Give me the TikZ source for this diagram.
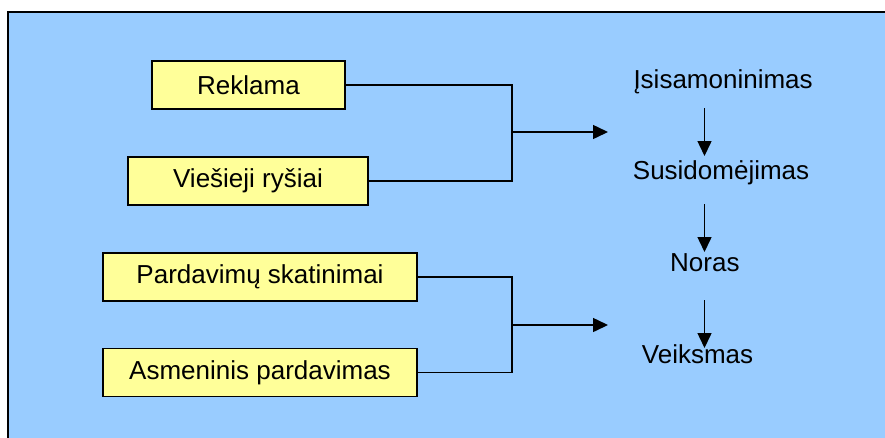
\documentclass[tikz,border=0pt]{standalone}
\usepackage{fontspec}
\setmainfont{Liberation Sans}
\usetikzlibrary{arrows.meta}
\definecolor{bgblue}{HTML}{99CCFF}
\definecolor{boxyellow}{HTML}{FFFF99}
\begin{document}
\begin{tikzpicture}[x=1pt,y=-1pt,
  tool/.style={draw=black,line width=1.5pt,fill=boxyellow,minimum height=48pt,inner sep=0pt,
    font=\fontsize{26}{30}\selectfont},
  stage/.style={anchor=base west,inner sep=0pt,font=\fontsize{26}{30}\selectfont},
  link/.style={line width=1.5pt},
  arr/.style={line width=1.5pt,-{Triangle[length=15pt,width=14pt]}}]
\useasboundingbox (0,0) rectangle (885,437);
\fill[white] (0,0) rectangle (885,437);
\draw[line width=2pt,fill=bgblue] (8,12) rectangle (900,450);
% left boxes
\node[tool,minimum width=193pt] (rek) at (248.5,85) {Reklama};
\node[tool,minimum width=240pt] (vie) at (248,181) {Viešieji ryšiai};
\node[tool,minimum width=314pt] (par) at (260,277) {Pardavimų skatinimai};
\node[tool,minimum width=314pt] (asm) at (260,372.5) {Asmeninis pardavimas};
% stages
\node[stage] (isi) at (633.3,88.3) {Įsisamoninimas};
\node[stage] (sus) at (632.7,179) {Susidomėjimas};
\node[stage] (nor) at (670,271.7) {Noras};
\node[stage] (vei) at (641.7,363.3) {Veiksmas};
% junctions
\coordinate (j1) at (512,132);
\coordinate (t1) at (608,132);
\coordinate (j2) at (512,325);
\coordinate (t2) at (608,325);
\draw[link] (rek.east) -| (j1) |- (vie.east);
\draw[arr] (j1) -- (t1);
\draw[link] (par.east) -| (j2) |- (asm.east);
\draw[arr] (j2) -- (t2);
% vertical arrows
\coordinate (a1s) at (704.5,108);
\coordinate (a1e) at (704.5,156);
\coordinate (a2s) at (704.5,204);
\coordinate (a2e) at (704.5,252);
\coordinate (a3s) at (704.5,300);
\coordinate (a3e) at (704.5,348);
\draw[arr] (a1s) -- (a1e);
\draw[arr] (a2s) -- (a2e);
\draw[arr] (a3s) -- (a3e);
\end{tikzpicture}
\end{document}
